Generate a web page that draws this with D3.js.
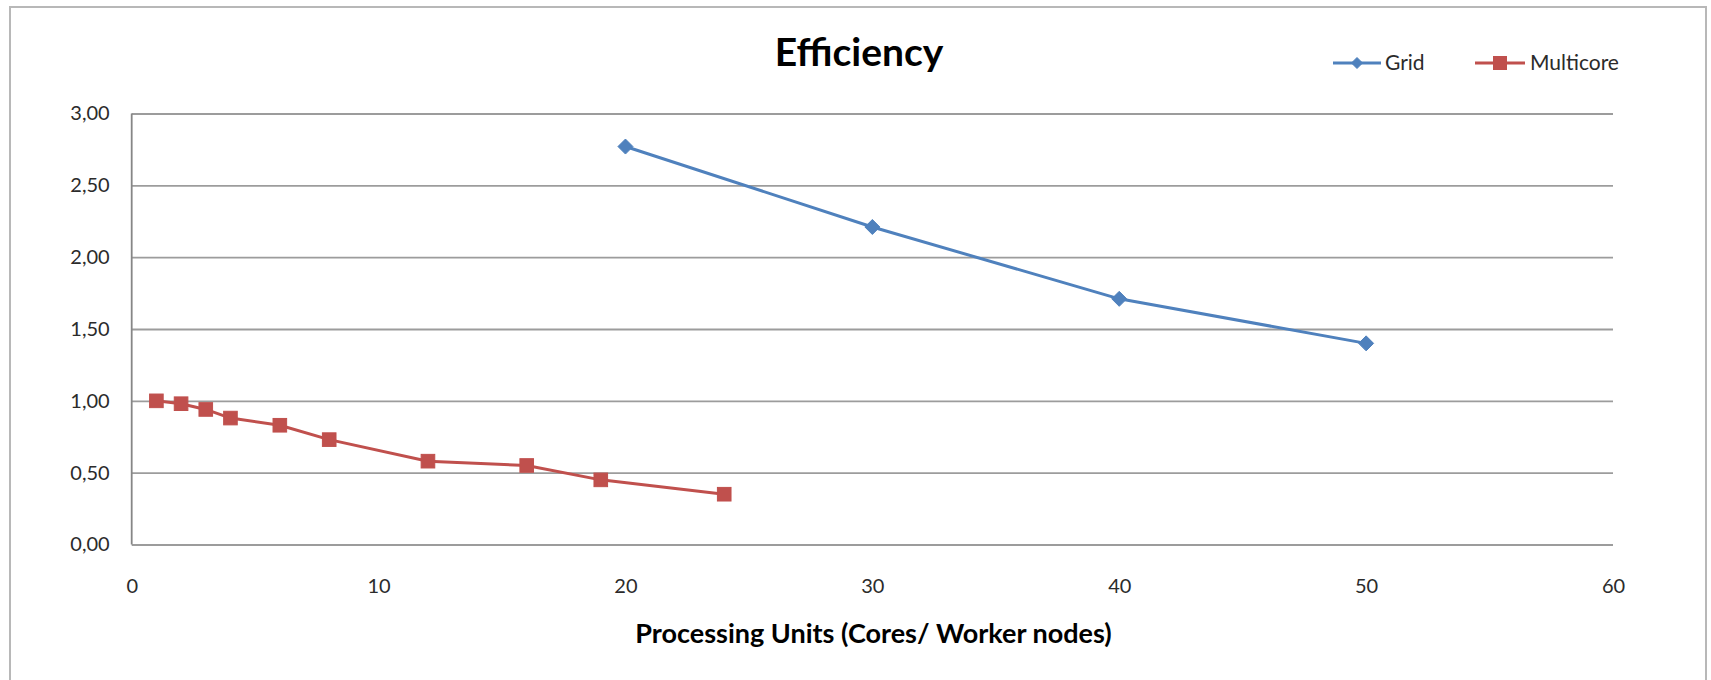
<!DOCTYPE html>
<html>
<head>
<meta charset="utf-8">
<script src="https://cdn.jsdelivr.net/npm/d3@7"></script>
<style>
  html, body { margin: 0; padding: 0; background: #ffffff; }
  svg { display: block; }
  text { font-family: Lato, "Open Sans", "Liberation Sans", sans-serif; }
</style>
</head>
<body>
<svg id="chart" width="1711" height="680"></svg>
<script>
// Efficiency per processing unit count
const gridNodes = [20, 30, 40, 50];
const gridEfficiency = [2.77, 2.21, 1.71, 1.40];

const multicoreCores = [1, 2, 3, 4, 6, 8, 12, 16, 19, 24];
const multicoreEfficiency = [1.00, 0.98, 0.94, 0.88, 0.83, 0.73, 0.58, 0.55, 0.45, 0.35];

const xTicks = [0, 10, 20, 30, 40, 50, 60];
const yTicks = [0, 0.5, 1, 1.5, 2, 2.5, 3];

const seriesNames = ["Grid", "Multicore"];
const seriesColors = ["#4F81BD", "#C0504D"];

const chartTitle = "Efficiency";
const xTitle = "Processing Units (Cores/ Worker nodes)";

const svg = d3.select("#chart");

// Chart frame
svg.append("rect")
  .attr("x", 10).attr("y", 7)
  .attr("width", 1696).attr("height", 690)
  .attr("fill", "#ffffff")
  .attr("stroke", "#b8b8b8")
  .attr("stroke-width", 2);

const plot = { left: 131.7, right: 1613, top: 113.5, bottom: 544.5 };

const x = d3.scaleLinear().domain([0, 60]).range([plot.left, plot.right]);
const y = d3.scaleLinear().domain([0, 3]).range([plot.bottom, plot.top]);

const commaFmt = v => d3.format(".2f")(v).replace(".", ",");

// Horizontal gridlines via the y axis
const yGrid = svg.append("g")
  .attr("transform", `translate(${plot.left},0)`)
  .call(d3.axisLeft(y).tickValues(yTicks).tickSize(-(plot.right - plot.left)).tickFormat(""));
yGrid.select(".domain").remove();
yGrid.selectAll(".tick line").attr("stroke", "#9c9c9c").attr("stroke-width", 1.8);

// Y tick labels
const yAxis = svg.append("g")
  .attr("transform", `translate(${plot.left},0)`)
  .call(d3.axisLeft(y).tickValues(yTicks).tickSize(0).tickPadding(22).tickFormat(commaFmt));
yAxis.select(".domain").remove();
yAxis.selectAll(".tick text")
  .attr("font-family", "Lato, sans-serif")
  .attr("font-size", 20)
  .attr("fill", "#2b2b2b");

// Vertical value axis line
svg.append("line")
  .attr("x1", plot.left).attr("x2", plot.left)
  .attr("y1", plot.top).attr("y2", plot.bottom)
  .attr("stroke", "#868686").attr("stroke-width", 1.8);

// X tick labels
const xAxis = svg.append("g")
  .attr("transform", `translate(0,${plot.bottom})`)
  .call(d3.axisBottom(x).tickValues(xTicks).tickSize(0).tickPadding(34).tickFormat(d3.format("d")));
xAxis.select(".domain").remove();
xAxis.selectAll(".tick text")
  .attr("font-family", "Lato, sans-serif")
  .attr("font-size", 20)
  .attr("fill", "#2b2b2b");

// Series
const series = [
  { name: seriesNames[0], color: seriesColors[0], marker: "diamond",
    pts: gridNodes.map((v, i) => [v, gridEfficiency[i]]) },
  { name: seriesNames[1], color: seriesColors[1], marker: "square",
    pts: multicoreCores.map((v, i) => [v, multicoreEfficiency[i]]) }
];

const line = d3.line().x(d => x(d[0])).y(d => y(d[1]));

function drawMarker(g, type, color, r) {
  if (type === "diamond") {
    g.append("path")
      .attr("d", `M0,${-r}L${r},0L0,${r}L${-r},0Z`)
      .attr("fill", color).attr("stroke", color).attr("stroke-width", 1);
  } else {
    g.append("rect")
      .attr("x", -r).attr("y", -r).attr("width", 2 * r).attr("height", 2 * r)
      .attr("fill", color).attr("stroke", color).attr("stroke-width", 1);
  }
}

series.forEach(s => {
  svg.append("path")
    .datum(s.pts)
    .attr("d", line)
    .attr("fill", "none")
    .attr("stroke", s.color)
    .attr("stroke-width", 3)
    .attr("stroke-linejoin", "round");
  svg.append("g").selectAll("g")
    .data(s.pts)
    .join("g")
    .attr("transform", d => `translate(${x(d[0])},${y(d[1])})`)
    .each(function () {
      drawMarker(d3.select(this), s.marker, s.color, s.marker === "diamond" ? 7.5 : 6.8);
    });
});

// Title
svg.append("text")
  .attr("x", 859).attr("y", 66)
  .attr("text-anchor", "middle")
  .attr("font-size", 39)
  .attr("font-weight", "bold")
  .attr("fill", "#000000")
  .text(chartTitle);

// X axis title
svg.append("text")
  .attr("x", 873.5).attr("y", 643)
  .attr("text-anchor", "middle")
  .attr("font-size", 27)
  .attr("font-weight", "bold")
  .attr("fill", "#000000")
  .text(xTitle);

// Legend
const legendItems = [
  { name: seriesNames[0], color: seriesColors[0], marker: "diamond", x0: 1333, x1: 1381, tx: 1385 },
  { name: seriesNames[1], color: seriesColors[1], marker: "square", x0: 1475, x1: 1525, tx: 1530 }
];
const legendY = 63;
legendItems.forEach(it => {
  const g = svg.append("g");
  g.append("line")
    .attr("x1", it.x0).attr("x2", it.x1)
    .attr("y1", legendY).attr("y2", legendY)
    .attr("stroke", it.color).attr("stroke-width", 3);
  const m = g.append("g").attr("transform", `translate(${(it.x0 + it.x1) / 2},${legendY})`);
  drawMarker(m, it.marker, it.color, it.marker === "diamond" ? 5.5 : 6.5);
  g.append("text")
    .attr("x", it.tx).attr("y", legendY + 7)
    .attr("font-size", 21)
    .attr("fill", "#2b2b2b")
    .text(it.name);
});
</script>
</body>
</html>
